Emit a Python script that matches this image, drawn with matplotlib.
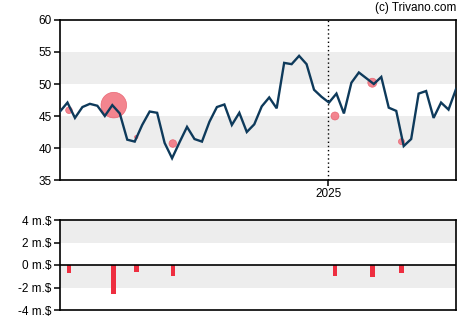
"""Weekly share price with insider trades and traded volume."""

import matplotlib
matplotlib.use('Agg')
import matplotlib.pyplot as plt
import numpy as np

plt.rcParams['font.family'] = ['Liberation Sans', 'DejaVu Sans']

# ----------------------------------------------------------------------------
# Data

# Weekly closing price, one value per week.
price = [
    45.7, 47.1, 44.7, 46.4, 46.9, 46.6, 45.0, 46.7, 45.4, 41.3,
    41.0, 43.6, 45.7, 45.5, 40.8, 38.4, 40.9, 43.3, 41.4, 41.0,
    44.1, 46.4, 46.8, 43.6, 45.5, 42.5, 43.7, 46.5, 47.9, 46.2,
    53.3, 53.1, 54.4, 53.1, 49.1, 48.0, 47.1, 48.5, 45.4, 50.2,
    51.8, 50.9, 50.0, 51.1, 46.3, 45.8, 40.3, 41.4, 48.5, 48.9,
    44.7, 47.1, 46.0, 49.2,
]

# Insider trades: week, trade price, marker size and value in million $.
trade_week = [1.2, 7.2, 10.2, 15.1, 36.8, 41.8, 45.7]
trade_price = [45.9, 46.7, 41.7, 40.7, 45.0, 50.2, 41.0]
trade_size = [3.3, 12.8, 1.7, 3.8, 4.0, 4.5, 3.0]
trade_value = [-0.68, -2.58, -0.60, -0.98, -0.98, -1.07, -0.71]

year_week = 35.9
year_label = '2025'

price_ticks = [35, 40, 45, 50, 55, 60]
value_ticks = [-4, -2, 0, 2, 4]

# ----------------------------------------------------------------------------
# Styles

LINE_COLOR = '#0e3a5b'
DOT_COLOR = '#f2707c'
BAR_COLOR = '#ee2e40'
BAND_COLOR = '#ededed'

fig = plt.figure(figsize=(4.70, 3.25), dpi=100)
weeks = np.arange(len(price))
x_lim = (0, len(price) - 1)

# Price ----------------------------------------------------------------------
ax = fig.add_axes([60 / 470, 1 - 180 / 325, 396 / 470, 160 / 325])
for lo in (40, 50):
    ax.axhspan(lo, lo + 5, color=BAND_COLOR, lw=0, zorder=0)
ax.axvline(year_week, color='black', ls=(0, (1, 2)), lw=1, zorder=1)
ax.scatter(
    trade_week, trade_price, s=[(r * 1.44) ** 2 for r in trade_size],
    color=DOT_COLOR, alpha=0.85, edgecolors='#e65a68', linewidths=0.5,
    zorder=2
    )
ax.plot(weeks, price, color=LINE_COLOR, lw=1.7, zorder=3,
        solid_joinstyle='miter')
ax.set_xlim(*x_lim)
ax.set_ylim(price_ticks[0], price_ticks[-1])
ax.set_yticks(price_ticks)
ax.set_xticks([year_week])
ax.set_xticklabels([year_label])

# Volume ---------------------------------------------------------------------
bx = fig.add_axes([60 / 470, 1 - 310 / 325, 396 / 470, 90 / 325])
for lo in (-2, 2):
    bx.axhspan(lo, lo + 2, color=BAND_COLOR, lw=0, zorder=0)
bx.axhline(0, color='black', lw=1.2, zorder=3)
bx.bar(trade_week, trade_value, width=0.62, color=BAR_COLOR, zorder=2)
bx.set_xlim(*x_lim)
bx.set_ylim(value_ticks[0], value_ticks[-1])
bx.set_yticks(value_ticks)
bx.set_yticklabels(['{} m.$'.format(v) for v in value_ticks])
bx.set_xticks([])

for a in (ax, bx):
    for side in a.spines.values():
        side.set_linewidth(1.2)
    a.tick_params(labelsize=8.5, length=4, width=1.1, pad=2,
                  colors='black')

fig.text(456 / 470, 1 - 8 / 325, '(c) Trivano.com', ha='right', va='center',
         fontsize=8.5)

fig.savefig('out.png', dpi=100)
